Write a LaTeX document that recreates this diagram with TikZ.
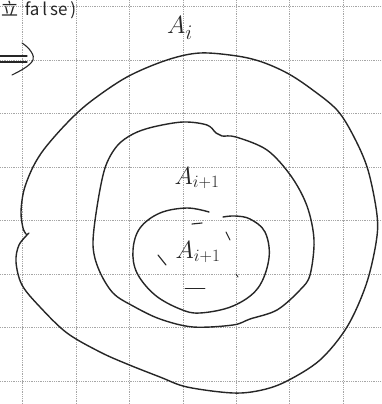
\documentclass[tikz,border=0pt]{standalone}
\usepackage{fontspec}
\newfontfamily\cjk{Noto Sans CJK SC}
\begin{document}
\begin{tikzpicture}[x=1pt,y=-1pt,
  gridline/.style={gray!70, densely dotted, line width=0.8pt},
  pen/.style={black!85, line width=1.4pt, line cap=round, line join=round},
  thinpen/.style={black!85, line width=1.1pt, line cap=round},
  hand/.style={black!85, inner sep=0pt}]
\useasboundingbox (0,0) rectangle (382,404);
\fill[white] (0,0) rectangle (382,404);
% grid
\foreach \x in {22.5,76,129.5,183,236,289.5,343}
  \draw[gridline] (\x,0) -- (\x,404);
\foreach \y in {6,60,113.5,167,220.5,274,327.5,381}
  \draw[gridline] (0,\y) -- (382,\y);
% top-left text
\node[black!85, anchor=west, inner sep=0pt, font=\cjk\fontsize{17}{17}\selectfont] (toptext) at (1,10) {立 \,fa\,l\,se\,)};
% arrow at left
\coordinate (arrA) at (0,56);
\coordinate (arrB) at (27,56);
\coordinate (arrC) at (0,62);
\coordinate (arrD) at (27,62);
\draw[thinpen] (arrA) -- (arrB);
\draw[thinpen] (arrC) -- (arrD);
\coordinate (headT) at (22,43);
\coordinate (headM) at (33,60);
\coordinate (headB) at (12,75);
\draw[thinpen] (headT) .. controls (30,48) and (35,56) .. (headM) .. controls (30,66) and (20,71) .. (headB);
% outer region A_i
\draw[pen] plot[smooth, tension=0.55] coordinates {
  (29,233) (19,245) (16,262) (22,285) (40,307) (67,333) (100,352) (127,364)
  (160,377) (187,387) (233,393) (262,390) (287,381) (320,360) (347,327)
  (366,285) (376,243) (377,215) (368,170) (354,137) (337,110) (310,88)
  (287,73) (262,62) (237,56) (200,53) (167,60) (127,77) (90,102) (67,123)
  (45,148) (33,167) (24,190) (21,212) (23,228) (26,234)};
% middle region A_{i+1}
\draw[pen] plot[smooth cycle, tension=0.55] coordinates {
  (153,127) (183,122) (207,125) (216,133) (222,136) (236,137) (267,150)
  (291,176) (307,206) (314,240) (310,275) (300,290) (277,310) (250,319)
  (233,325) (193,327) (160,319) (133,306) (113,293) (99,270) (93,245)
  (97,207) (105,168) (117,146) (133,134)};
% inner region
\draw[pen] plot[smooth, tension=0.6] coordinates {
  (209,212) (187,208) (160,213) (140,228) (133,250) (137,273) (155,295)
  (180,309) (200,313) (233,306) (258,288) (269,258) (265,232) (250,219)
  (235,216) (223,217)};
% labels
\node[hand, font=\fontsize{30}{30}\selectfont] (Ai) at (180,28) {$A_i$};
\node[hand, font=\fontsize{24}{24}\selectfont] (Ai1) at (197,178) {$A_{i+1}$};
\node[hand, font=\fontsize{24}{24}\selectfont] (Ai1in) at (198,252) {$A_{i+1}$};
% stray pencil marks
\draw[thinpen] (158,255) -- (166,265);
\draw[thinpen] (226,232) -- (230,240);
\draw[thinpen] (192,224) -- (202,223);
\draw[thinpen, line width=0.9pt] (185,288) -- (205,288);
\draw[thinpen, line width=0.9pt] (236,274) -- (238,277);
\end{tikzpicture}
\end{document}
